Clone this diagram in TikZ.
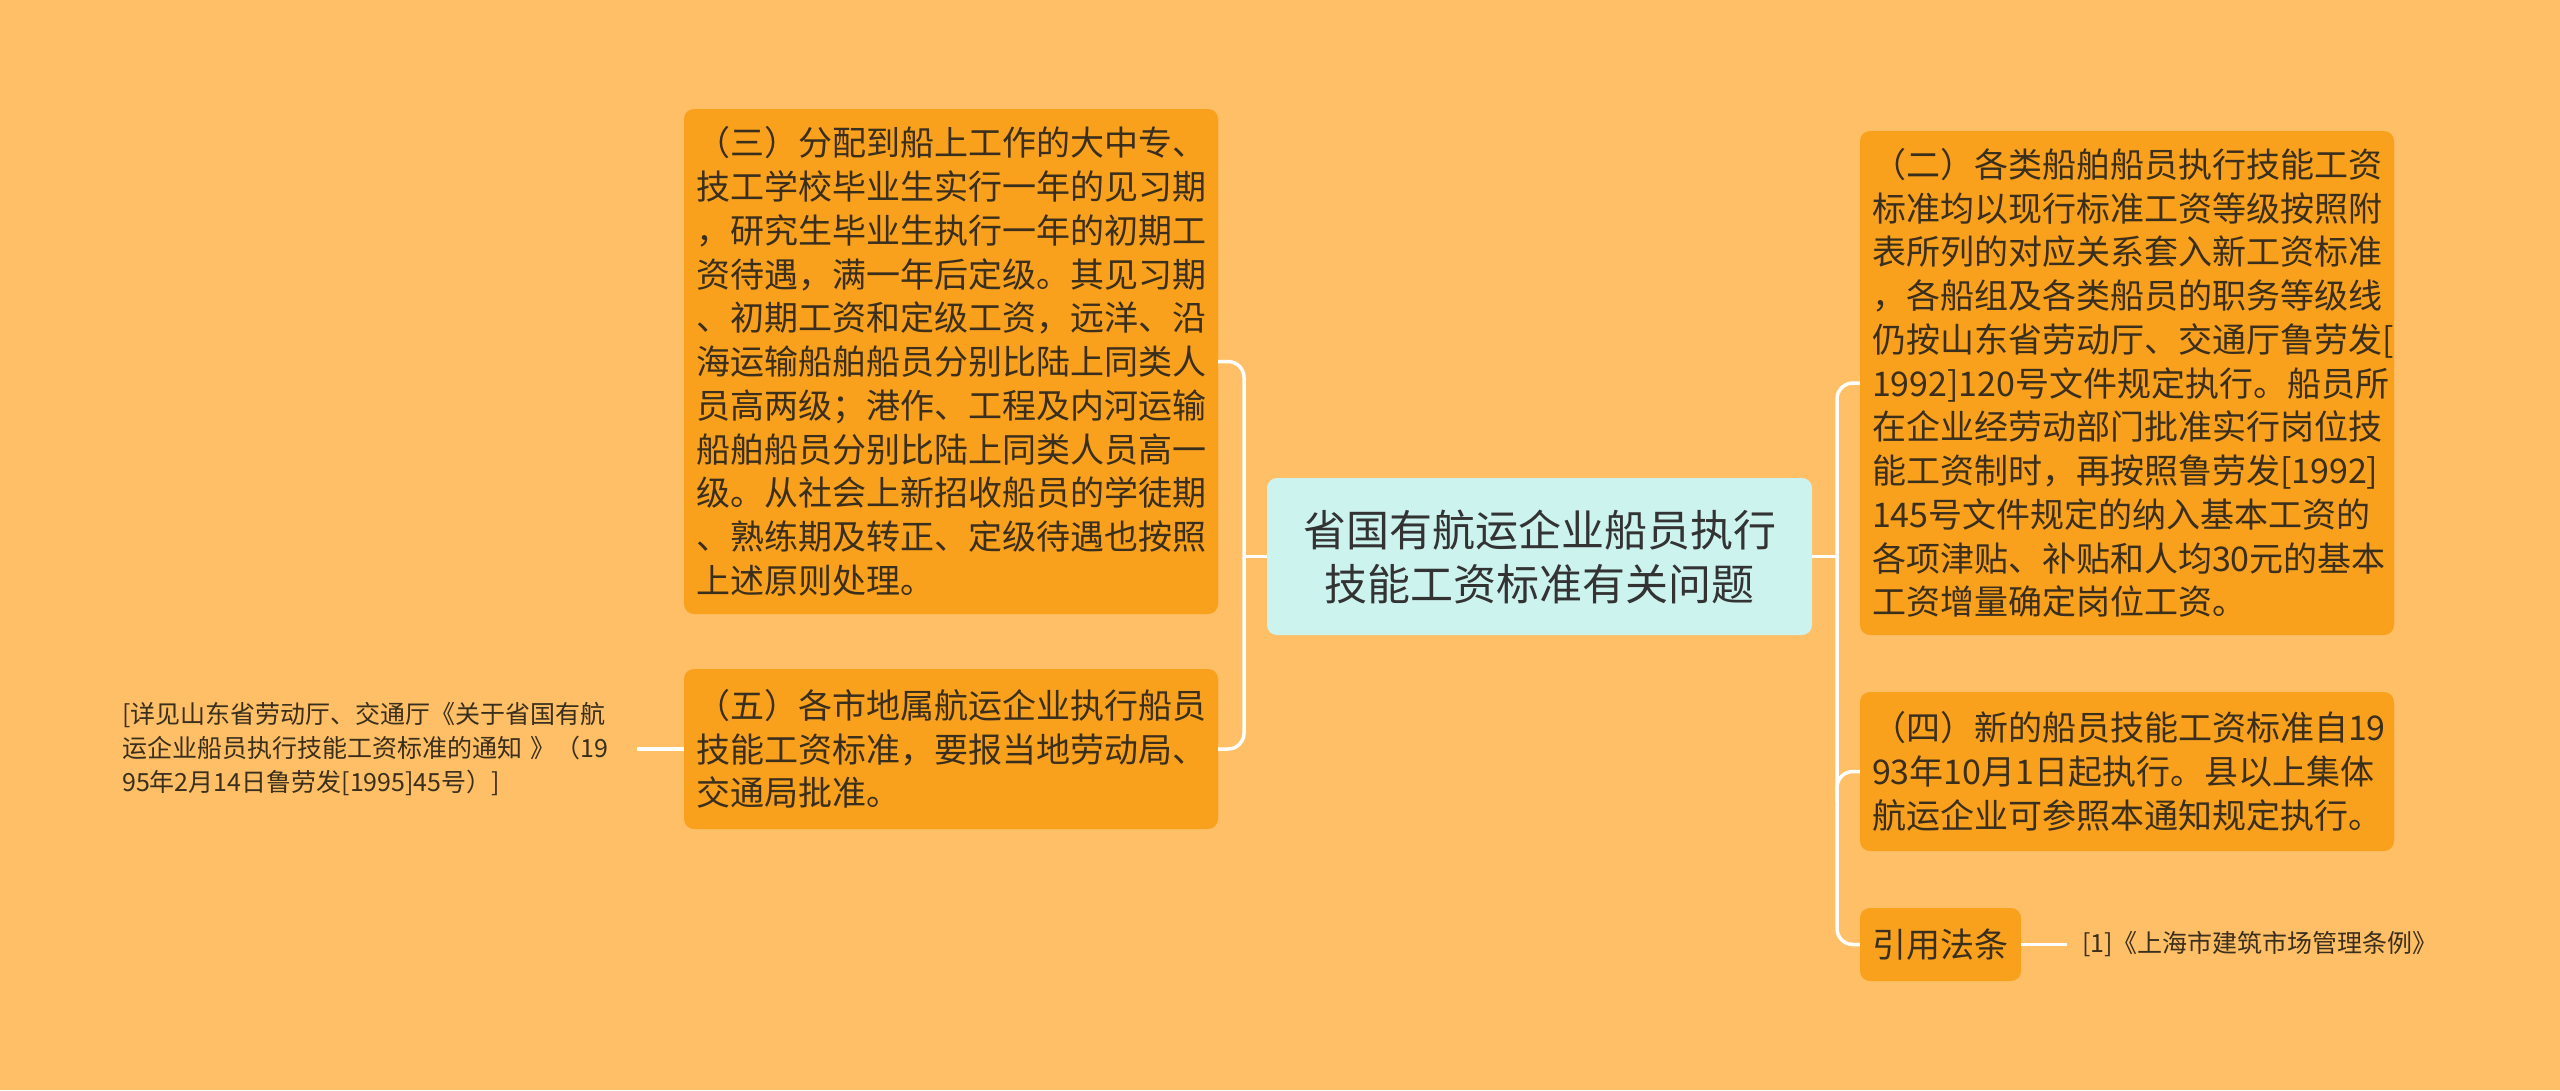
\documentclass[tikz,border=0pt]{standalone}
\usepackage{fontspec}
\setmainfont{Noto Sans CJK SC}
\definecolor{bgc}{HTML}{FEBF66}
\definecolor{boxc}{HTML}{F9A11D}
\definecolor{rootc}{HTML}{CDF3EF}
\definecolor{txtc}{HTML}{3A2E1C}
\definecolor{roottxt}{HTML}{333333}
\tikzset{
  leafbox/.style={fill=boxc, rounded corners=10pt, text=txtc, inner xsep=12pt, inner ysep=0pt,
    text width=510pt, align=left, font=\fontsize{34}{43.75}\selectfont},
  rootbox/.style={fill=rootc, rounded corners=10pt, text=roottxt, inner sep=0pt,
    minimum width=545pt, minimum height=157pt, align=center, font=\fontsize{43}{54}\selectfont},
  smalltxt/.style={text=txtc, inner sep=0pt, align=left, font=\fontsize{25}{34}\selectfont},
  conn/.style={draw=white, line width=3.5pt, rounded corners=16pt}
}
\begin{document}
\begin{tikzpicture}[x=1pt,y=-1pt]
\fill[bgc] (0,0) rectangle (2560,1090);
\useasboundingbox (0,0) rectangle (2560,1090);

% root
\node[rootbox] (root) at (1539.5,556.5) {省国有航运企业船员执行\\技能工资标准有关问题};

% left branches
\node[leafbox, minimum height=505pt] (b3) at (951,361.5) {（三）分配到船上工作的大中专、\\技工学校毕业生实行一年的见习期\\，研究生毕业生执行一年的初期工\\资待遇，满一年后定级。其见习期\\、初期工资和定级工资，远洋、沿\\海运输船舶船员分别比陆上同类人\\员高两级；港作、工程及内河运输\\船舶船员分别比陆上同类人员高一\\级。从社会上新招收船员的学徒期\\、熟练期及转正、定级待遇也按照\\上述原则处理。};
\node[leafbox, minimum height=160pt] (b5) at (951,749) {（五）各市地属航运企业执行船员\\技能工资标准，要报当地劳动局、\\交通局批准。};
\node[smalltxt, text width=515pt, anchor=west] (note5) at (122,749) {[详见山东省劳动厅、交通厅《关于省国有航\\运企业船员执行技能工资标准的通知~》（19\\95年2月14日鲁劳发[1995]45号）]};

% right branches
\node[leafbox, minimum height=504pt] (b2) at (2127,383) {（二）各类船舶船员执行技能工资\\标准均以现行标准工资等级按照附\\表所列的对应关系套入新工资标准\\，各船组及各类船员的职务等级线\\仍按山东省劳动厅、交通厅鲁劳发[\\1992]120号文件规定执行。船员所\\在企业经劳动部门批准实行岗位技\\能工资制时，再按照鲁劳发[1992]\\145号文件规定的纳入基本工资的\\各项津贴、补贴和人均30元的基本\\工资增量确定岗位工资。};
\node[leafbox, minimum height=159pt] (b4) at (2127,771.5) {（四）新的船员技能工资标准自19\\93年10月1日起执行。县以上集体\\航运企业可参照本通知规定执行。};
\node[fill=boxc, rounded corners=10pt, text=txtc, inner sep=0pt, minimum width=161pt, minimum height=73pt,
  font=\fontsize{34}{40}\selectfont] (bref) at (1940.5,944.5) {引用法条};
\node[smalltxt, anchor=west, inner xsep=15pt] (ref1) at (2067,944.5) {[1]《上海市建筑市场管理条例》};

% junction coordinates
\coordinate (jL) at (1244,556.5);
\coordinate (jR) at (1837,556.5);

% connectors left
\draw[conn, rounded corners=0pt] (root.west) -- (jL);
\draw[conn] (b3.east) -- (b3.east -| jL) -- (b5.east -| jL) -- (b5.east);
\draw[conn, rounded corners=0pt] (b5.west) -- (note5.east);

% connectors right
\draw[conn, rounded corners=0pt] (root.east) -- (jR);
\draw[conn] (b2.west) -- (b2.west -| jR) -- (bref.west -| jR) -- (bref.west);
\draw[conn] ([yshift=-30pt]b4.west -| jR) -- (b4.west -| jR) -- (b4.west);
\draw[conn, rounded corners=0pt] (bref.east) -- (ref1.west);
\end{tikzpicture}
\end{document}
